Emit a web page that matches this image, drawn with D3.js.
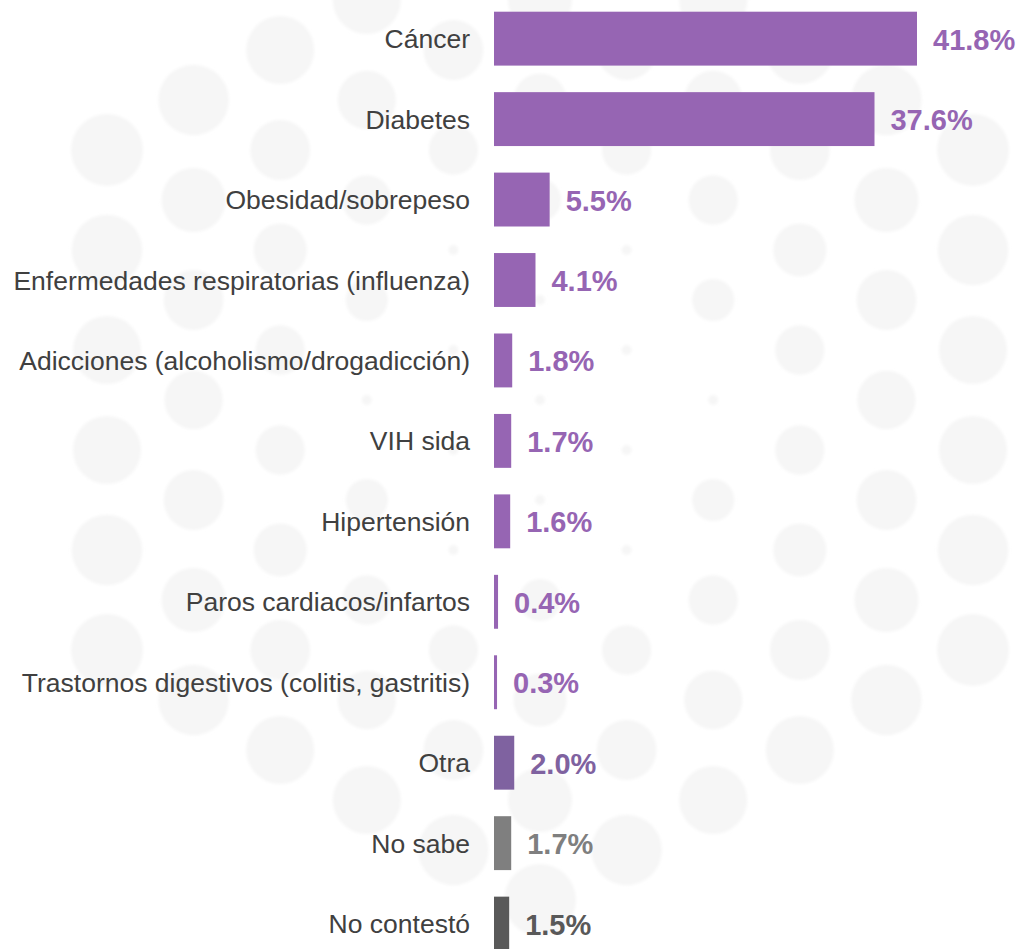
<!DOCTYPE html>
<html lang="es">
<head>
<meta charset="UTF-8">
<script src="https://cdn.jsdelivr.net/npm/d3@7"></script>
<title>Enfermedades</title>
<style>
  body { margin: 0; background: #fff; }
  svg { display: block; font-family: "Liberation Sans", Arial, sans-serif; }
</style>
</head>
<body>
<script>
    var categories = ["Cáncer", "Diabetes", "Obesidad/sobrepeso", "Enfermedades respiratorias (influenza)",
        "Adicciones (alcoholismo/drogadicción)", "VIH sida", "Hipertensión", "Paros cardiacos/infartos",
        "Trastornos digestivos (colitis, gastritis)", "Otra", "No sabe", "No contestó"];
    var values = [41.8, 37.6, 5.5, 4.1, 1.8, 1.7, 1.6, 0.4, 0.3, 2.0, 1.7, 1.5];
    var colors = ["#9665b3", "#9665b3", "#9665b3", "#9665b3", "#9665b3", "#9665b3", "#9665b3",
        "#9665b3", "#9665b3", "#7f62a0", "#7f7f7f", "#595959"];

    var width = 1020, height = 949;

    var svg = d3.select("body").append("svg")
        .attr("width", width)
        .attr("height", height);

    // faint dotted background (decoration only)
    var blur = svg.append("defs").append("filter").attr("id", "soft");
    blur.append("feGaussianBlur").attr("stdDeviation", 1.5);

    var deco = svg.append("g").attr("filter", "url(#soft)");
    var cx0 = 540, cy0 = 400;
    for (var i = -1; i < 12; i++) {
        var px = 107 + 86.6 * i;
        for (var k = -2; k < 11; k++) {
            var py = (i % 2 === 0 ? 50 : 0) + 100 * k;
            var d = Math.sqrt((px - cx0) * (px - cx0) + (py - cy0) * (py - cy0));
            if (d > 510) continue;
            var r = d < 180 ? 5 : Math.min(36, 20 + (d - 180) * 0.055);
            deco.append("circle")
                .attr("cx", px)
                .attr("cy", py)
                .attr("r", r)
                .style("fill", "#f6f6f6");
        }
    }

    var x = d3.scaleLinear()
        .domain([0, 41.8])
        .range([494, 917]);

    var step = 80.45;
    var y = d3.scaleBand()
        .domain(categories)
        .range([11.7 - 0.165 * step, 11.7 - 0.165 * step + categories.length * step])
        .paddingInner(0.33)
        .paddingOuter(0.165);

    var data = categories.map(function(c, i) { return {cat: c, val: values[i], col: colors[i]}; });

    svg.append("g").selectAll("rect")
        .data(data)
        .enter()
        .append("rect")
        .attr("x", x(0))
        .attr("y", function(d) { return y(d.cat); })
        .attr("width", function(d) { return x(d.val) - x(0); })
        .attr("height", y.bandwidth())
        .style("fill", function(d) { return d.col; });

    svg.append("g").selectAll("text")
        .data(data)
        .enter()
        .append("text")
        .attr("x", 470)
        .attr("y", function(d) { return y(d.cat) + y.bandwidth() / 2; })
        .attr("dy", "0.36em")
        .attr("text-anchor", "end")
        .style("font-size", "26.5px")
        .style("fill", "#404040")
        .text(function(d) { return d.cat; });

    svg.append("g").selectAll("text")
        .data(data)
        .enter()
        .append("text")
        .attr("x", function(d) { return x(d.val) + 16; })
        .attr("y", function(d) { return y(d.cat) + y.bandwidth() / 2; })
        .attr("dy", "0.38em")
        .style("font-size", "29px")
        .style("font-weight", "bold")
        .style("fill", function(d) { return d.col; })
        .text(function(d) { return d.val.toFixed(1) + "%"; });
</script>
</body>
</html>
